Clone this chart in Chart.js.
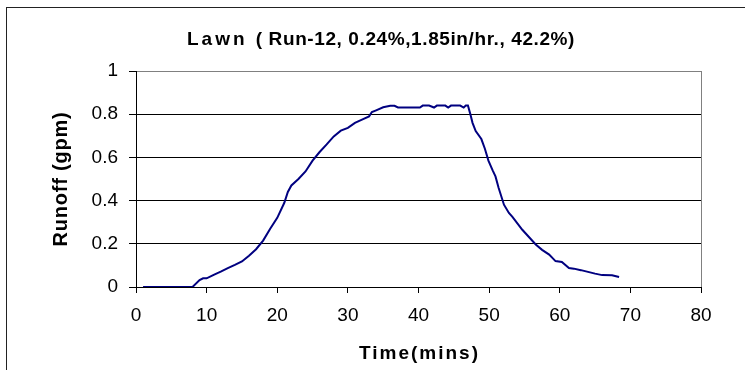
<!DOCTYPE html>
<html>
<head>
<meta charset="utf-8">
<title>Lawn runoff</title>
<script src="https://cdn.jsdelivr.net/npm/chart.js@4/dist/chart.umd.min.js"></script>
<style>
    html, body { margin: 0; padding: 0; background: #fff; overflow: hidden; }
    .wrap  { position: relative; width: 745px; height: 370px; }
    .frame { position: absolute; left: 6px; top: 7px; width: 800px; height: 400px; border: 1px solid #222; }
    canvas { position: absolute; left: 0; top: 0; }
</style>
</head>
<body>
<div class="wrap">
    <div class="frame"></div>
    <canvas id="runoffChart" width="745" height="370"></canvas>
</div>
<script>
/* ─── Data ─── */
const timeMins = [
    1, 2, 3, 4, 5, 6, 7, 8, 9, 9.5, 10, 11, 12, 13, 14, 15, 16, 17, 18, 19, 20,
    21, 21.5, 22, 23, 24, 25, 26, 27, 28, 29, 30, 31, 32, 33, 33.4, 34, 35, 36, 36.6,
    37.1, 38, 39, 40.2, 40.6, 41.5, 42.2, 42.6, 43.8, 44.2, 44.6, 45.9, 46.4, 46.7, 47,
    47.3, 47.65, 48.1, 48.9, 49.4, 49.9, 50.5, 50.9, 51.35, 52.1, 52.8, 53.3, 54.7, 56.6,
    57.5, 58.5, 59.4, 60.3, 61.3, 62, 63, 64, 65, 66, 67.4, 68.4
];
const runoffGpm = [
    0, 0, 0, 0, 0, 0, 0, 0, 0.032, 0.04, 0.04, 0.056, 0.071, 0.087, 0.102, 0.118, 0.145, 0.175, 0.215, 0.27, 0.32,
    0.39, 0.44, 0.47, 0.5, 0.535, 0.585, 0.625, 0.66, 0.697, 0.724, 0.737, 0.76, 0.775, 0.79, 0.81, 0.818, 0.832, 0.839, 0.839,
    0.831, 0.831, 0.831, 0.831, 0.84, 0.84, 0.831, 0.84, 0.84, 0.831, 0.84, 0.84, 0.831, 0.84, 0.84,
    0.805, 0.76, 0.722, 0.685, 0.64, 0.585, 0.54, 0.512, 0.458, 0.381, 0.343, 0.325, 0.265, 0.197,
    0.172, 0.15, 0.12, 0.116, 0.088, 0.085, 0.078, 0.07, 0.062, 0.055, 0.054, 0.046
];
const xTicks = { min: 0, max: 80, step: 10 };
const yTicks = { min: 0, max: 1, step: 0.2 };

const titleLead = 'Lawn';
const titleRest = '( Run-12, 0.24%,1.85in/hr., 42.2%)';
const xTitle = 'Time(mins)';
const yTitle = 'Runoff (gpm)';

const FONT = '"Liberation Sans", Arial, sans-serif';

/* ─── Spaced text helper (canvas letterSpacing) ─── */
function spacedText(ctx, text, x, y, spacing) {
    ctx.letterSpacing = spacing + 'px';
    ctx.fillText(text, x, y);
    ctx.letterSpacing = '0px';
}

/* ─── Chart heading and axis titles ─── */
const headingPlugin = {
    id: 'heading',
    afterDraw(chart) {
        const { ctx, chartArea } = chart;
        ctx.save();
        ctx.fillStyle = '#000';
        ctx.textBaseline = 'alphabetic';
        ctx.textAlign = 'left';

        // main title, "Lawn" a bit more spread than the rest
        ctx.font = 'bold 19px ' + FONT;
        ctx.letterSpacing = '3px';
        const leadW = ctx.measureText(titleLead + ' ').width;
        ctx.letterSpacing = '0.6px';
        const restW = ctx.measureText(titleRest).width;
        let x = 381 - (leadW + restW) / 2;
        spacedText(ctx, titleLead + ' ', x, 45, 3);
        spacedText(ctx, titleRest, x + leadW, 45, 0.6);

        // x axis title
        ctx.font = 'bold 19px ' + FONT;
        ctx.textAlign = 'center';
        ctx.textBaseline = 'middle';
        spacedText(ctx, xTitle, (chartArea.left + chartArea.right) / 2 + 1, 354, 2);

        // y axis title
        ctx.font = 'bold 20px ' + FONT;
        ctx.translate(61, (chartArea.top + chartArea.bottom) / 2);
        ctx.rotate(-Math.PI / 2);
        spacedText(ctx, yTitle, 0, 0, 0.8);
        ctx.restore();
    }
};

const canvas = document.getElementById('runoffChart');

new Chart(canvas, {
    type: 'line',
    data: {
        datasets: [{
            label: 'Runoff',
            data: timeMins.map((t, i) => ({ x: t, y: runoffGpm[i] })),
            borderColor: '#000080',
            borderWidth: 2,
            pointRadius: 0,
            tension: 0,
            fill: false,
        }]
    },
    options: {
        responsive: false,
        animation: false,
        devicePixelRatio: 1,
        layout: { padding: { top: 71, right: 44, bottom: 0, left: 0 } },
        plugins: {
            legend:  { display: false },
            title:   { display: false },
            tooltip: { enabled: false }
        },
        scales: {
            x: {
                type: 'linear',
                min: xTicks.min,
                max: xTicks.max,
                ticks: {
                    stepSize: xTicks.step,
                    color: '#000',
                    font: { family: FONT, size: 19 },
                    padding: 11,
                    maxRotation: 0,
                },
                grid: {
                    color: c => c.tick && c.tick.value === xTicks.max ? '#808080' : 'transparent',
                    tickColor: '#000',
                    tickLength: 6,
                    lineWidth: 1,
                },
                border: { color: '#000', width: 1 },
                afterFit: s => { s.height = 83; }
            },
            y: {
                min: yTicks.min,
                max: yTicks.max,
                ticks: {
                    stepSize: yTicks.step,
                    color: '#000',
                    font: { family: FONT, size: 19 },
                    padding: 11,
                    callback: v => String(Number(v.toFixed(1))),
                },
                grid: {
                    color: c => c.tick && c.tick.value === yTicks.max ? '#808080' : '#000',
                    tickColor: '#000',
                    tickLength: 7,
                    lineWidth: 1,
                },
                border: { color: '#000', width: 1 },
                afterFit: s => { s.width = 136; }
            }
        }
    },
    plugins: [headingPlugin]
});
</script>
</body>
</html>
